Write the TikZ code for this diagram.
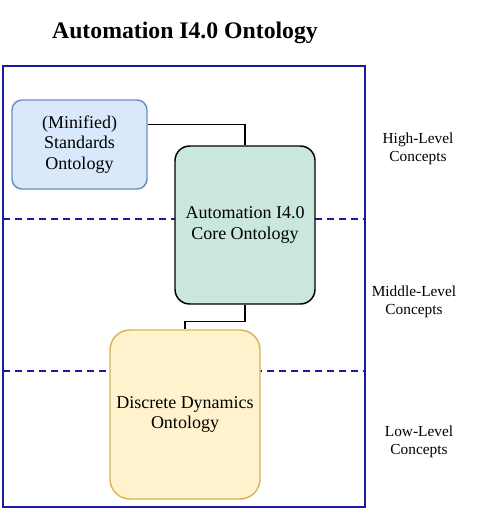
\documentclass[tikz,border=0pt]{standalone}
\usepackage{fontspec}
\setmainfont{Liberation Serif}
\usepackage{tikz}
\usetikzlibrary{calc, positioning}

\definecolor{frameblue}{HTML}{1A1A9E}
\definecolor{stdfill}{HTML}{DAE8FC}
\definecolor{stddraw}{HTML}{6C8EBF}
\definecolor{corefill}{HTML}{C9E7DB}
\definecolor{ddfill}{HTML}{FFF2CC}
\definecolor{dddraw}{HTML}{D6B656}

\begin{document}
\begin{tikzpicture}[
            x=0.75pt, y=-0.75pt, % one unit is one pixel
            onto/.style={draw, line width=1.1pt, align=center, font=\fontsize{13.5}{15.5}\selectfont},
            level/.style={align=center, font=\fontsize{11.5}{13.3}\selectfont},
            sep/.style={draw=frameblue, line width=1.1pt, dash pattern=on 5.5pt off 3.5pt}
        ]

        \useasboundingbox (0,0) rectangle (483,510);
        \node[font=\fontsize{17.8}{21}\selectfont\bfseries] (title) at (185,33) {Automation I4.0 Ontology};

        % Frame and level separators
        \draw[frameblue, line width=1.3pt] (3,66) rectangle (365,507);
        \draw[sep] (3,219) -- (365,219);
        \draw[sep] (3,371) -- (365,371);

        % Ontology boxes
        \node[onto, fill=stdfill, draw=stddraw, rounded corners=7.5pt,
              minimum width=101.25pt, minimum height=66.75pt] (std) at (79.5,144.5)
              {(Minified)\\Standards\\Ontology};
        \node[onto, fill=corefill, draw=black, rounded corners=11pt,
              minimum width=105pt, minimum height=118.5pt] (core) at (245,225)
              {Automation I4.0\\Core Ontology};
        \node[onto, fill=ddfill, draw=dddraw, rounded corners=15pt,
              minimum width=112.5pt, minimum height=126.75pt] (dd) at (185,414.5)
              {Discrete Dynamics\\Ontology};

        % Level labels
        \node[level] (high) at (418,149) {High-Level\\Concepts};
        \node[level] (middle) at (414,302) {Middle-Level\\Concepts};
        \node[level] (low) at (419,442) {Low-Level\\Concepts};

        % Connections
        \draw[line width=1.1pt] ([yshift=-18.75pt]std.north east) -| (core.north);
        \draw[line width=1.1pt] (core.south) -- ++(0,17) -| (dd.north);

    \end{tikzpicture}
\end{document}
